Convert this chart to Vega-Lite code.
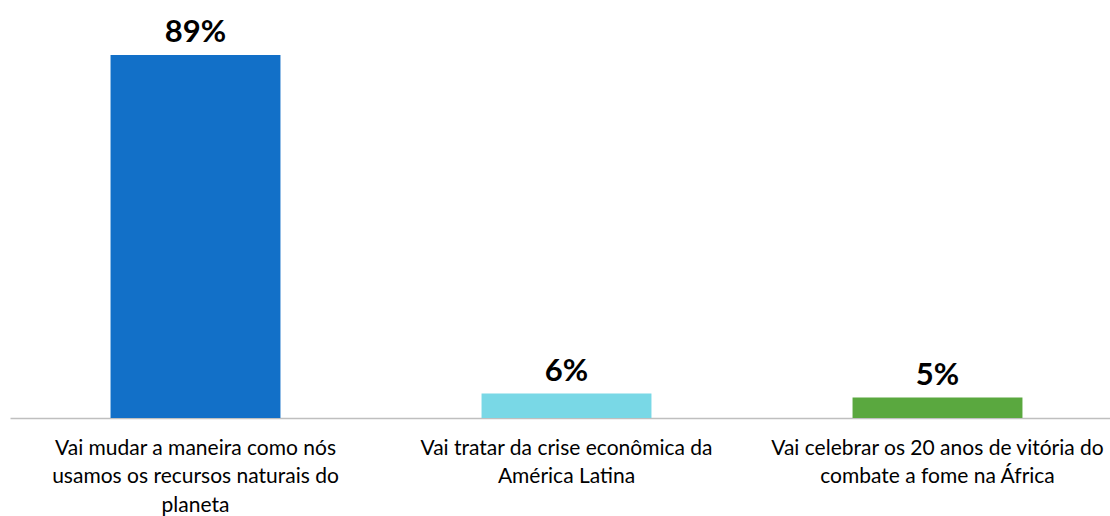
{
  "$schema": "https://vega.github.io/schema/vega-lite/v6.json",
  "width": 1113,
  "height": 408,
  "autosize": {"type": "none"},
  "padding": {"left": 10, "top": 10, "right": 0, "bottom": 98},
  "background": "white",
  "config": {"view": {"stroke": null}, "font": "Lato"},
  "data": {
    "values": [
      {"categoria": "Vai mudar a maneira como nós\nusamos os recursos naturais do\nplaneta", "valor": 0.89, "cor": "#1270C8", "ordem": 1},
      {"categoria": "Vai tratar da crise econômica da\nAmérica Latina", "valor": 0.06, "cor": "#79D8E6", "ordem": 2},
      {"categoria": "Vai celebrar os 20 anos de vitória do\ncombate a fome na África", "valor": 0.05, "cor": "#5AA83F", "ordem": 3}
    ]
  },
  "encoding": {
    "x": {
      "field": "categoria",
      "type": "nominal",
      "sort": {"field": "ordem"},
      "scale": {"paddingInner": 0.542, "paddingOuter": 0.271},
      "axis": {
        "title": null,
        "labelAngle": 0,
        "ticks": false,
        "domainColor": "#BFBFBF",
        "domainWidth": 1.5,
        "labelExpr": "split(datum.label, '\\n')",
        "labelFont": "Lato",
        "labelFontSize": 21,
        "labelLineHeight": 28.5,
        "labelColor": "#000000",
        "labelPadding": 19,
        "labelLimit": 500,
        "labelOverlap": false
      }
    },
    "y": {
      "field": "valor",
      "type": "quantitative",
      "scale": {"domain": [0, 1]},
      "axis": null
    }
  },
  "layer": [
    {
      "mark": {"type": "bar"},
      "encoding": {"color": {"field": "cor", "type": "nominal", "scale": null}}
    },
    {
      "mark": {"type": "text", "baseline": "alphabetic", "dy": -13, "fontSize": 31, "fontWeight": "bold", "font": "Lato", "color": "#000000"},
      "encoding": {"text": {"field": "valor", "type": "quantitative", "format": ".0%"}}
    }
  ]
}
